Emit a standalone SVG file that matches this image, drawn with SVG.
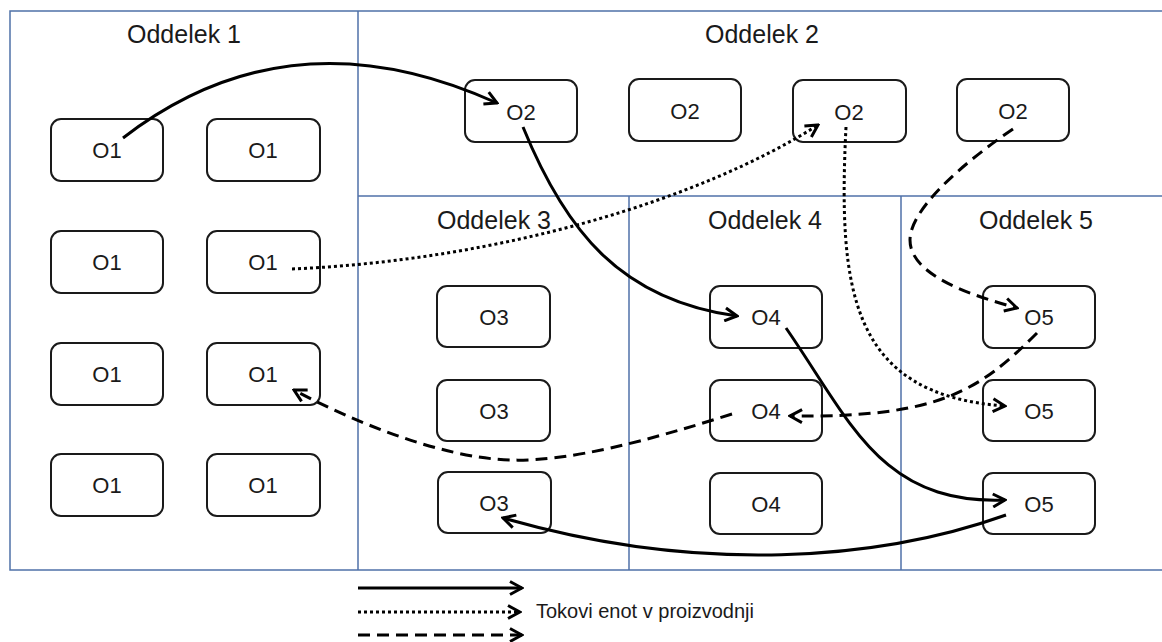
<svg xmlns="http://www.w3.org/2000/svg" width="1162" height="642" viewBox="0 0 1162 642">
  <style>
    .frame { fill: none; stroke: #4f71a8; stroke-width: 1.5; }
    .box rect { fill: #fff; stroke: #1a1a1a; stroke-width: 2; }
    .box text, .lbl { font-family: "Liberation Sans", Arial, sans-serif; fill: #1a1a1a; text-anchor: middle; }
    .box text { font-size: 22px; }
    .dept { font-size: 25px; }
    .legend-text { font-family: "Liberation Sans", Arial, sans-serif; font-size: 20px; fill: #1a1a1a; }
    .flow { fill: none; stroke: #000; stroke-width: 3; }
    .solid { marker-end: url(#arrow); }
    .dotted { stroke-dasharray: 3 3; marker-end: url(#arrow); }
    .dashed { stroke-dasharray: 12 7; marker-end: url(#arrow); }
  </style>
  <defs>
    <marker id="arrow" viewBox="0 0 16 16" refX="14" refY="8" markerWidth="16" markerHeight="16" markerUnits="userSpaceOnUse" orient="auto">
      <path d="M2,1.5 L14,8 L2,14.5" fill="none" stroke="#000" stroke-width="3" stroke-dasharray="none" stroke-linejoin="miter"/>
    </marker>
  </defs>

  <rect width="1162" height="642" fill="#fff"/>

  <!-- department frame -->
  <g id="departments">
    <rect class="frame" x="10" y="11" width="1170" height="559"/>
    <line class="frame" x1="358" y1="11" x2="358" y2="570"/>
    <line class="frame" x1="358" y1="196" x2="1170" y2="196"/>
    <line class="frame" x1="629" y1="196" x2="629" y2="570"/>
    <line class="frame" x1="901" y1="196" x2="901" y2="570"/>
    <text class="lbl dept" x="184" y="43">Oddelek 1</text>
    <text class="lbl dept" x="762" y="43">Oddelek 2</text>
    <text class="lbl dept" x="494" y="229">Oddelek 3</text>
    <text class="lbl dept" x="765" y="229">Oddelek 4</text>
    <text class="lbl dept" x="1036" y="229">Oddelek 5</text>
  </g>

  <!-- department 1 -->
  <g id="o1-a" class="box"><rect x="51" y="119" width="112" height="62" rx="10"/><text x="107" y="158">O1</text></g>
  <g id="o1-b" class="box"><rect x="207" y="119" width="113" height="62" rx="10"/><text x="263" y="158">O1</text></g>
  <g id="o1-c" class="box"><rect x="51" y="231" width="112" height="62" rx="10"/><text x="107" y="270">O1</text></g>
  <g id="o1-d" class="box"><rect x="207" y="231" width="113" height="62" rx="10"/><text x="263" y="270">O1</text></g>
  <g id="o1-e" class="box"><rect x="51" y="343" width="112" height="62" rx="10"/><text x="107" y="382">O1</text></g>
  <g id="o1-f" class="box"><rect x="207" y="343" width="113" height="62" rx="10"/><text x="263" y="382">O1</text></g>
  <g id="o1-g" class="box"><rect x="51" y="454" width="112" height="62" rx="10"/><text x="107" y="493">O1</text></g>
  <g id="o1-h" class="box"><rect x="207" y="454" width="113" height="62" rx="10"/><text x="263" y="493">O1</text></g>

  <!-- department 2 -->
  <g id="o2-a" class="box"><rect x="465" y="80" width="112" height="62" rx="10"/><text x="521" y="120">O2</text></g>
  <g id="o2-b" class="box"><rect x="629" y="79" width="112" height="62" rx="10"/><text x="685" y="119">O2</text></g>
  <g id="o2-c" class="box"><rect x="793" y="80" width="113" height="62" rx="10"/><text x="849" y="120">O2</text></g>
  <g id="o2-d" class="box"><rect x="957" y="79" width="112" height="62" rx="10"/><text x="1013" y="119">O2</text></g>

  <!-- department 3 -->
  <g id="o3-a" class="box"><rect x="437" y="286" width="113" height="61" rx="10"/><text x="494" y="325">O3</text></g>
  <g id="o3-b" class="box"><rect x="437" y="380" width="113" height="61" rx="10"/><text x="494" y="419">O3</text></g>
  <g id="o3-c" class="box"><rect x="438" y="472" width="113" height="61" rx="10"/><text x="494" y="511">O3</text></g>

  <!-- department 4 -->
  <g id="o4-a" class="box"><rect x="710" y="286" width="112" height="62" rx="10"/><text x="766" y="325">O4</text></g>
  <g id="o4-b" class="box"><rect x="710" y="380" width="112" height="61" rx="10"/><text x="766" y="419">O4</text></g>
  <g id="o4-c" class="box"><rect x="710" y="473" width="112" height="61" rx="10"/><text x="766" y="512">O4</text></g>

  <!-- department 5 -->
  <g id="o5-a" class="box"><rect x="983" y="286" width="112" height="62" rx="10"/><text x="1039" y="325">O5</text></g>
  <g id="o5-b" class="box"><rect x="983" y="380" width="112" height="61" rx="10"/><text x="1039" y="419">O5</text></g>
  <g id="o5-c" class="box"><rect x="983" y="473" width="112" height="61" rx="10"/><text x="1039" y="512">O5</text></g>

  <!-- material flows -->
  <g id="connectors">
    <path class="flow solid" d="M123,138 C250,40 380,50 497,103"/>
    <path class="flow solid" d="M523,127 C565,230 620,300 737,316"/>
    <path class="flow solid" d="M786,328 C850,420 880,505 1005,500"/>
    <path class="flow solid" d="M1006,515 C880,560 700,575 503,518"/>
    <path class="flow dotted" d="M292,269 C500,260 700,200 818,125"/>
    <path class="flow dotted" d="M846,127 C838,290 850,395 1005,406"/>
    <path class="flow dashed" d="M1013,129 C960,165 910,210 910,240 C910,275 970,295 1017,308"/>
    <path class="flow dashed" d="M1037,333 C980,390 940,418 790,416"/>
    <path class="flow dashed" d="M732,414 C650,440 570,462 510,460 C440,458 350,420 294,390"/>
  </g>

  <!-- legend -->
  <g id="legend">
    <line class="flow solid" x1="358" y1="588" x2="522" y2="588"/>
    <line class="flow dotted" x1="358" y1="612" x2="520" y2="612"/>
    <line class="flow dashed" x1="358" y1="635" x2="522" y2="635"/>
    <text class="legend-text" x="536" y="618">Tokovi enot v proizvodnji</text>
  </g>
</svg>
